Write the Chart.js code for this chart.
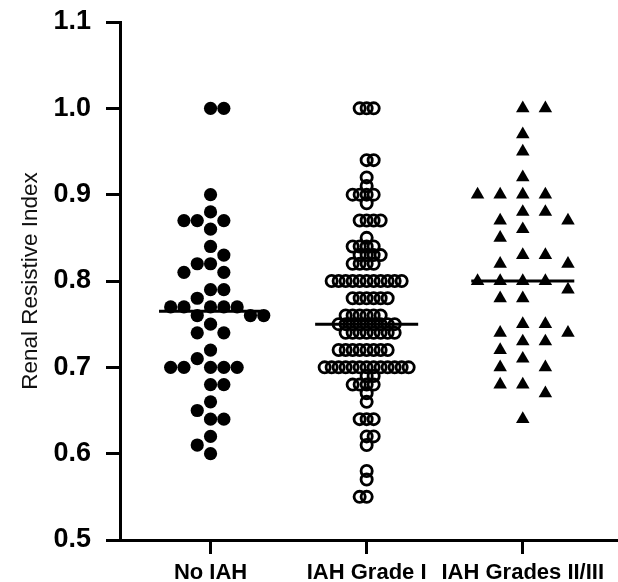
<!DOCTYPE html>
<html>
<head>
<meta charset="utf-8">
<script src="https://cdn.jsdelivr.net/npm/chart.js"></script>
<style>
  html, body { margin: 0; padding: 0; background: #fff; }
  #wrap { width: 618px; height: 582px; }
</style>
</head>
<body>
<div id="wrap"><canvas id="dotChart" width="618" height="582"></canvas></div>
<script>
// groups on the x axis
const groupLabels = ['No IAH', 'IAH Grade I', 'IAH Grades II/III'];

// renal resistive index, one value per patient
const noIah = [
  1.00, 1.00, 0.90, 0.88, 0.87, 0.87, 0.87, 0.86, 0.84, 0.83, 0.82, 0.82,
  0.81, 0.81, 0.79, 0.79, 0.78, 0.77, 0.77, 0.77, 0.77, 0.77, 0.76, 0.76,
  0.76, 0.75, 0.74, 0.74, 0.72, 0.71, 0.70, 0.70, 0.70, 0.70, 0.70, 0.68,
  0.68, 0.66, 0.65, 0.64, 0.64, 0.62, 0.61, 0.60
];
const gradeI = [
  1.00, 1.00, 1.00, 0.94, 0.94, 0.92, 0.91, 0.90, 0.90, 0.90, 0.90, 0.89,
  0.87, 0.87, 0.87, 0.87, 0.85, 0.84, 0.84, 0.84, 0.84, 0.83, 0.83, 0.83,
  0.83, 0.82, 0.82, 0.82, 0.82,
  0.80, 0.80, 0.80, 0.80, 0.80, 0.80, 0.80, 0.80, 0.80, 0.80, 0.80,
  0.78, 0.78, 0.78, 0.78, 0.78, 0.78,
  0.76, 0.76, 0.76, 0.76, 0.76, 0.76,
  0.75, 0.75, 0.75, 0.75, 0.75, 0.75, 0.75, 0.75, 0.75,
  0.74, 0.74, 0.74, 0.74, 0.74, 0.74, 0.74, 0.74,
  0.72, 0.72, 0.72, 0.72, 0.72, 0.72, 0.72, 0.72,
  0.70, 0.70, 0.70, 0.70, 0.70, 0.70, 0.70, 0.70, 0.70, 0.70, 0.70, 0.70, 0.70,
  0.69, 0.69, 0.68, 0.68, 0.68, 0.68, 0.67, 0.66, 0.64, 0.64, 0.64,
  0.62, 0.62, 0.61, 0.58, 0.57, 0.55, 0.55
];
const gradesIIandIII = [
  1.00, 1.00, 0.97, 0.95, 0.92, 0.90, 0.90, 0.90, 0.90, 0.88, 0.88, 0.87,
  0.87, 0.86, 0.85, 0.83, 0.83, 0.82, 0.82, 0.80, 0.80, 0.80, 0.80, 0.79,
  0.78, 0.78, 0.75, 0.75, 0.74, 0.74, 0.73, 0.73, 0.72, 0.71, 0.70, 0.70,
  0.68, 0.68, 0.67, 0.64
];

const yTickValues = [0.5, 0.6, 0.7, 0.8, 0.9, 1.0, 1.1];

const groups = [noIah, gradeI, gradesIIandIII];
const FONT = "'Liberation Sans', Arial, Helvetica, sans-serif";

function median(arr) {
  const s = arr.slice().sort((a, b) => a - b);
  const m = Math.floor(s.length / 2);
  return s.length % 2 ? s[m] : (s[m - 1] + s[m]) / 2;
}

// simple beeswarm: put every point as near the centre as it can go
// without hitting the ones already placed (distances in pixels)
function swarm(values, center, ax, ay, step, xpx, ypx) {
  const order = values.map((v, i) => i).sort((a, b) => values[b] - values[a]);
  const placed = [];
  const out = new Array(values.length);
  for (const i of order) {
    const py = values[i] * ypx;
    let left = 0, right = 0;
    placed.forEach(p => { if (p.dx < 0) left++; else if (p.dx > 0) right++; });
    let best = null;
    for (let k = 0; k < 200 && best === null; k++) {
      let cands = k === 0 ? [0] : [k * step, -k * step];
      if (left < right) cands.reverse();
      for (const dx of cands) {
        const ok = placed.every(p => {
          const a = (p.dx - dx) / ax, b = (p.py - py) / ay;
          return a * a + b * b >= 0.999;
        });
        if (ok) { best = dx; break; }
      }
    }
    placed.push({ dx: best, py: py });
    out[i] = { x: center + best / xpx, y: values[i] };
  }
  return out;
}

const medianSets = groups.map((g, i) => {
  const m = median(g);
  return {
    showLine: true,
    data: [{ x: i + 1 - 0.33, y: m }, { x: i + 1 + 0.33, y: m }],
    borderColor: '#000',
    borderWidth: 3,
    pointRadius: 0,
    order: 0
  };
});

const pointSets = [
  { data: noIah.map(v => ({ x: 1, y: v })), pointStyle: 'circle', pointRadius: 6.6,
    backgroundColor: '#000', borderColor: '#000', borderWidth: 0, order: 1 },
  { data: gradeI.map(v => ({ x: 2, y: v })), pointStyle: 'circle', pointRadius: 5.6,
    backgroundColor: 'rgba(0,0,0,0)', borderColor: '#000', borderWidth: 2.8, order: 1 },
  { data: gradesIIandIII.map(v => ({ x: 3, y: v })), pointStyle: 'triangle', pointRadius: 7.8,
    backgroundColor: '#000', borderColor: '#000', borderWidth: 0, order: 1 }
];

const axisGrid = {
  drawOnChartArea: false,
  drawTicks: true,
  tickLength: 14,
  tickWidth: 3,
  tickColor: '#000',
  color: '#000'
};

const ctx = document.getElementById('dotChart');
const chart = new Chart(ctx, {
  type: 'scatter',
  data: { datasets: medianSets.concat(pointSets) },
  options: {
    responsive: false,
    animation: false,
    layout: { autoPadding: false, padding: { top: 22, right: 0, bottom: 0, left: 0 } },
    plugins: { legend: { display: false }, tooltip: { enabled: false } },
    scales: {
      x: {
        type: 'linear',
        min: 0.42,
        max: 3.61,
        afterBuildTicks: s => { s.ticks = groupLabels.map((_, i) => ({ value: i + 1 })); },
        afterFit: s => { s.height = 42; s.paddingLeft = 0; s.paddingRight = 0; },
        grid: axisGrid,
        border: { display: true, color: '#000', width: 3 },
        ticks: {
          autoSkip: false,
          maxRotation: 0,
          padding: 6,
          color: '#000',
          font: { family: FONT, size: 22, weight: 'bold' },
          callback: v => groupLabels[v - 1]
        }
      },
      y: {
        min: 0.5,
        max: 1.1,
        afterBuildTicks: s => { s.ticks = yTickValues.map(v => ({ value: v })); },
        afterFit: s => { s.width = 120; s.paddingTop = 0; s.paddingBottom = 0; },
        grid: axisGrid,
        border: { display: true, color: '#000', width: 3 },
        ticks: {
          padding: 15,
          color: '#000',
          font: { family: FONT, size: 27, weight: 'bold' },
          callback: v => v.toFixed(1)
        },
        title: {
          display: true,
          text: 'Renal Resistive Index',
          color: '#111',
          font: { family: FONT, size: 22.5 },
          padding: { top: 17, bottom: 0 }
        }
      }
    }
  }
});

// spread the dots once the scales know their pixel sizes
const xs = chart.scales.x, ys = chart.scales.y;
const xpx = xs.getPixelForValue(1) - xs.getPixelForValue(0);
const ypx = ys.getPixelForValue(0.5) - ys.getPixelForValue(1.5);
chart.data.datasets[3].data = swarm(noIah, 1, 13.3, 13.3, 6.65, xpx, ypx);
chart.data.datasets[4].data = swarm(gradeI, 2, 7, 7, 3.5, xpx, ypx);
chart.data.datasets[5].data = swarm(gradesIIandIII, 3, 22.6, 14, 11.3, xpx, ypx);
chart.update('none');
</script>
</body>
</html>
